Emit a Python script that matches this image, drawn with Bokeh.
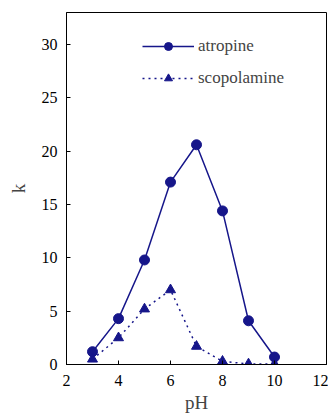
from bokeh.plotting import figure
from bokeh.models import Legend, LegendItem, Range1d, FixedTicker
from bokeh.embed import file_html
from bokeh.resources import INLINE

ph = [3, 4, 5, 6, 7, 8, 9, 10]
atropine = [1.2, 4.3, 9.8, 17.1, 20.6, 14.4, 4.1, 0.7]
scopolamine = [0.5, 2.5, 5.2, 7.0, 1.7, 0.3, 0.05, 0.05]
x_ticks = [2, 4, 6, 8, 10, 12]
y_ticks = [0, 5, 10, 15, 20, 25, 30]

color = "#16168a"
font = "Liberation Serif"

p = figure(frame_width=260, frame_height=352, output_backend="svg", toolbar_location=None,
           x_range=Range1d(2, 12), y_range=Range1d(0, 33),
           min_border_left=66, min_border_right=2, min_border_top=12, min_border_bottom=40)
p.grid.visible = False
p.outline_line_color = "black"
p.outline_line_width = 1

for ax in (p.xaxis[0], p.yaxis[0]):
    ax.major_label_text_font = font
    ax.major_label_text_font_size = "16px"
    ax.major_label_text_color = "black"
    ax.axis_label_text_font = font
    ax.axis_label_text_font_size = "19px"
    ax.axis_label_text_font_style = "normal"
    ax.major_tick_in = 4
    ax.major_tick_out = 0
    ax.minor_tick_line_color = None
    ax.axis_line_color = "black"
p.xaxis[0].ticker = FixedTicker(ticks=x_ticks)
p.yaxis[0].ticker = FixedTicker(ticks=y_ticks)
p.xaxis[0].axis_label = "pH"
p.yaxis[0].axis_label = "k"
p.xaxis[0].major_label_standoff = 10
p.xaxis[0].axis_label_standoff = 3
p.yaxis[0].major_label_standoff = 9
p.yaxis[0].axis_label_standoff = 10

l1 = p.line(ph, atropine, line_color=color, line_width=1.5)
s1 = p.scatter(ph, atropine, marker="circle", size=10, fill_color=color, line_color=color)
l2 = p.line(ph, scopolamine, line_color=color, line_width=1.5, line_dash="2 4")
s2 = p.scatter(ph, scopolamine, marker="triangle", size=10, fill_color=color, line_color=color)

legend = Legend(items=[LegendItem(label="atropine", renderers=[l1, s1]),
                       LegendItem(label="scopolamine", renderers=[l2, s2])],
                location=(76, 276), border_line_color=None, background_fill_alpha=0,
                label_text_font=font, label_text_font_size="17px",
                glyph_width=52, spacing=12, label_standoff=4, padding=4, margin=0)
p.add_layout(legend)

open("out.html", "w").write(file_html(p, INLINE))
